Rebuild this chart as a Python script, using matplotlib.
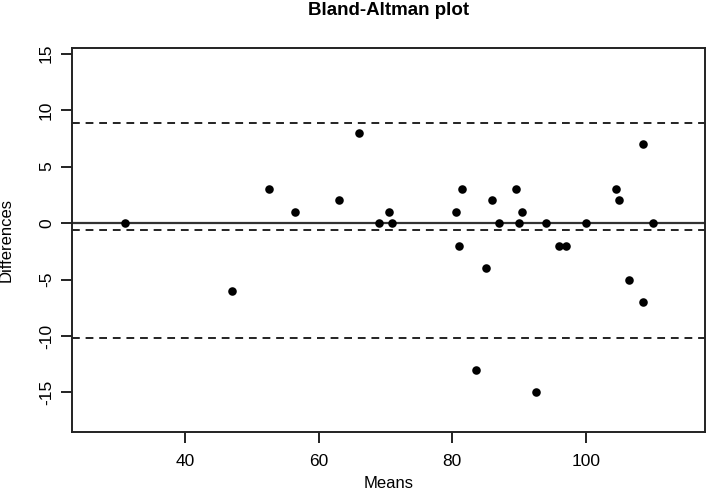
"""Bland-Altman plot: differences against means of two measurements"""
import numpy as np
import matplotlib
matplotlib.use("Agg")
import matplotlib.pyplot as plt

plt.rcParams['font.family'] = ['Liberation Sans', 'DejaVu Sans']

# means and differences
means = [31.0, 47.0, 52.5, 56.5, 63.0, 66.0, 69.0, 70.5, 71.0, 80.5,
         81.0, 81.5, 83.5, 85.0, 86.0, 87.0, 89.5, 90.0, 90.5, 92.5,
         94.0, 96.0, 97.0, 100.0, 104.5, 105.0, 106.5, 108.5, 108.5, 110.0]
diffs = [0, -6, 3, 1, 2, 8, 0, 1, 0, 1,
         -2, 3, -13, -4, 2, 0, 3, 0, 1, -15,
         0, -2, -2, 0, 3, 2, -5, 7, -7, 0]

x_ticks = [40, 60, 80, 100]
y_ticks = [-15, -10, -5, 0, 5, 10, 15]

d = np.array(diffs, dtype=float)
mean_diff = d.mean()
sd_diff = d.std(ddof=1)
upper = mean_diff + 1.96 * sd_diff
lower = mean_diff - 1.96 * sd_diff

fig = plt.figure(figsize=(7.08, 4.91), dpi=100)
ax = fig.add_axes([0.1017, 0.1202, 0.894, 0.782])

ax.scatter(means, diffs, s=38, color='black', zorder=3, linewidths=0)

ax.axhline(0, color='#333333', lw=1.6, zorder=2)
for yv in [upper, mean_diff, lower]:
    ax.axhline(yv, color='#222222', lw=1.4, linestyle=(0, (4, 3)), zorder=2)

ax.set_xlim(23.1, 117.8)
ax.set_ylim(-18.5, 15.5)
ax.set_xticks(x_ticks)
ax.set_yticks(y_ticks)
ax.set_yticklabels([str(v) for v in y_ticks], rotation=90, va='center')

ax.tick_params(axis='both', length=8, width=1.4, labelsize=12.5, color='#222222')
ax.tick_params(axis='x', pad=8)
ax.tick_params(axis='y', pad=5)
for sp in ax.spines.values():
    sp.set_linewidth(1.4)
    sp.set_color('#222222')

ax.set_title("Bland-Altman plot", fontsize=13.5, fontweight='bold', pad=24)
ax.set_xlabel("Means", fontsize=12, labelpad=5)
ax.set_ylabel("Differences", fontsize=12, labelpad=18)

plt.savefig("out.png", dpi=100)
plt.close()
